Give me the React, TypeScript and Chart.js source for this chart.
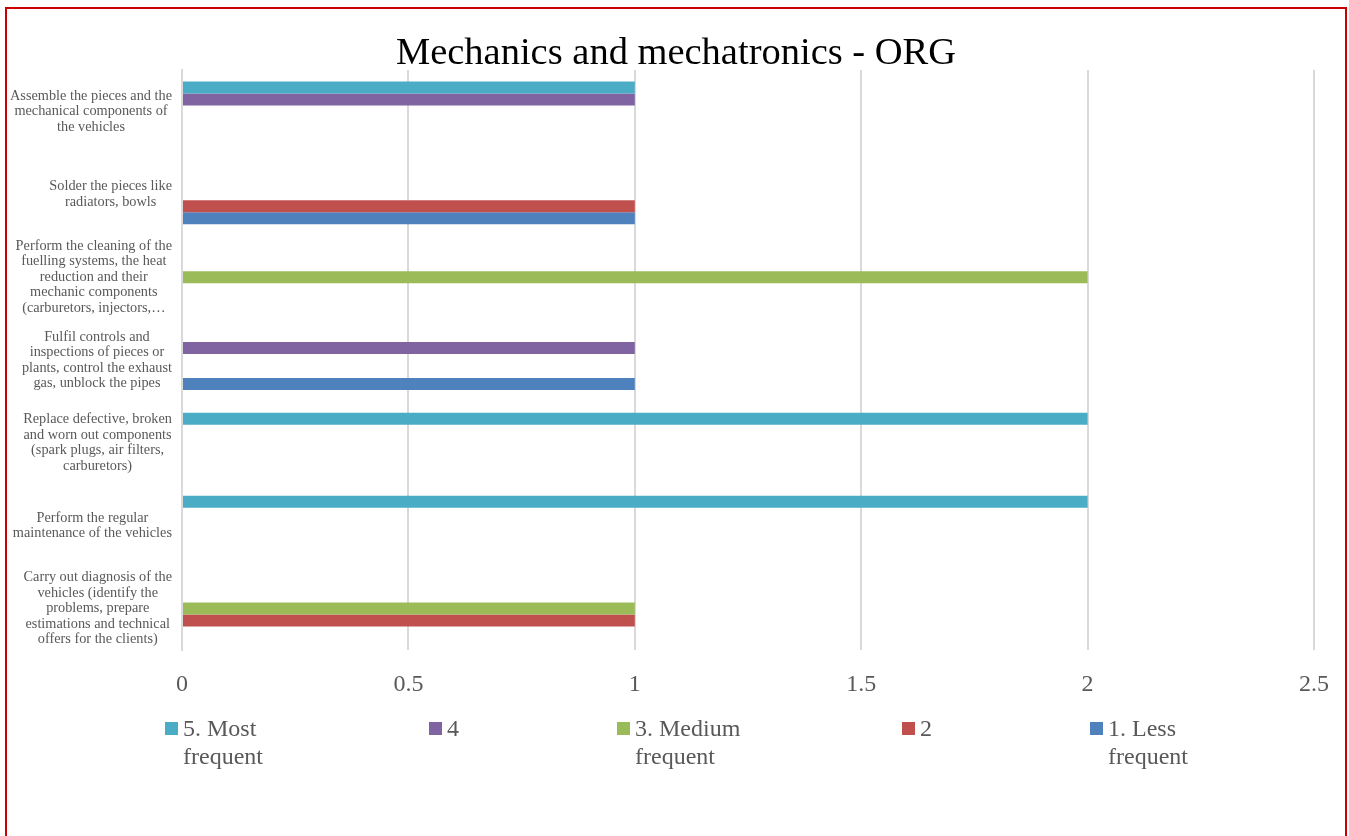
import React, { useEffect, useRef } from "react";
import { Chart, registerables } from "chart.js";

Chart.register(...registerables);

const FONT = "'Liberation Serif', serif";

const categories: string[][] = [
  ["Assemble the pieces and the", "mechanical components of", "the vehicles"],
  ["Solder the pieces like", "radiators, bowls"],
  ["Perform the cleaning of the", "fuelling systems, the heat", "reduction and their", "mechanic components", "(carburetors, injectors,…"],
  ["Fulfil controls and", "inspections of pieces or", "plants, control the exhaust", "gas, unblock the pipes"],
  ["Replace defective, broken", "and worn out components", "(spark plugs, air filters,", "carburetors)"],
  ["Perform the regular", "maintenance of the vehicles"],
  ["Carry out diagnosis of the", "vehicles (identify the", "problems, prepare", "estimations and technical", "offers for the clients)"],
];

const seriesLabels: string[][] = [
  ["5. Most", "frequent"],
  ["4"],
  ["3. Medium", "frequent"],
  ["2"],
  ["1. Less", "frequent"],
];

const mostFrequent = [1, 0, 0, 0, 2, 2, 0];
const four = [1, 0, 0, 1, 0, 0, 0];
const mediumFrequent = [0, 0, 2, 0, 0, 0, 1];
const two = [0, 1, 0, 0, 0, 0, 1];
const lessFrequent = [0, 1, 0, 1, 0, 0, 0];

const seriesValues = [mostFrequent, four, mediumFrequent, two, lessFrequent];
const seriesColors = ["#4BACC6", "#8064A2", "#9BBB59", "#C0504D", "#4F81BD"];

const xTicks = { min: 0, max: 2.5, step: 0.5 };
const title = "Mechanics and mechatronics - ORG";

const legendX = [165, 429, 617, 902, 1090];

const categoryLabelPlugin = {
  id: "categoryLabels",
  afterDraw(chart: any) {
    const { ctx } = chart;
    const yScale = chart.scales.y;
    ctx.save();
    ctx.font = `14.3px ${FONT}`;
    ctx.fillStyle = "#595959";
    ctx.textAlign = "center";
    ctx.textBaseline = "middle";
    const right = 172;
    const lh = 15.5;
    categories.forEach((lines, i) => {
      const cy = yScale.getPixelForValue(i);
      const maxW = Math.max(...lines.map((l) => ctx.measureText(l).width));
      const cx = right - maxW / 2;
      const y0 = cy - ((lines.length - 1) * lh) / 2;
      lines.forEach((l, j) => ctx.fillText(l, cx, y0 + j * lh));
    });
    ctx.restore();
  },
};

const legendPlugin = {
  id: "wrappedLegend",
  afterDraw(chart: any) {
    const { ctx } = chart;
    ctx.save();
    ctx.font = `24px ${FONT}`;
    ctx.textAlign = "left";
    ctx.textBaseline = "alphabetic";
    chart.data.datasets.forEach((ds: any, i: number) => {
      const x = legendX[i];
      ctx.fillStyle = ds.backgroundColor;
      ctx.fillRect(x, 722, 13, 13);
      ctx.fillStyle = "#595959";
      seriesLabels[i].forEach((line, j) => ctx.fillText(line, x + 18, 736 + j * 28));
    });
    ctx.restore();
  },
};

export default function App() {
  const ref = useRef<HTMLCanvasElement>(null);
  useEffect(() => {
    const chart = new Chart(ref.current!, {
      type: "bar",
      data: {
        labels: categories.map((c) => c.join(" ")),
        datasets: seriesValues.map((vals, i) => ({
          label: seriesLabels[i].join(" "),
          data: vals,
          backgroundColor: seriesColors[i],
          borderWidth: 0,
          categoryPercentage: 0.724,
          barPercentage: 1,
        })),
      },
      options: {
        indexAxis: "y",
        responsive: false,
        animation: false,
        layout: { padding: { left: 38, right: 35, top: 0, bottom: 0 } },
        scales: {
          x: {
            min: xTicks.min,
            max: xTicks.max,
            ticks: {
              stepSize: xTicks.step,
              color: "#595959",
              font: { family: FONT, size: 24 },
              padding: 20,
              callback: (v: any) => String(Number(v)),
            },
            grid: { color: "#D9D9D9", lineWidth: 2, drawTicks: false },
            border: { display: false },
            afterFit: (s: any) => {
              s.height = 186;
            },
          },
          y: {
            ticks: { display: false },
            grid: { display: false },
            border: { display: true, color: "#D9D9D9", width: 2 },
            afterFit: (s: any) => {
              s.width = 144;
            },
          },
        },
        plugins: {
          legend: { display: false },
          tooltip: { enabled: false },
          title: {
            display: true,
            text: title,
            color: "#000000",
            font: { family: FONT, size: 38.5, weight: "normal", lineHeight: 32 / 38.5 },
            padding: { top: 38, bottom: 0 },
          },
        },
      },
      plugins: [categoryLabelPlugin, legendPlugin],
    });
    return () => chart.destroy();
  }, []);

  return (
    <>
      <canvas
        ref={ref}
        width={1349}
        height={836}
        style={{ position: "fixed", left: 0, top: 0, width: 1349, height: 836 }}
      />
      <div
        style={{
          position: "fixed",
          left: 5,
          top: 7,
          width: 1342,
          height: 900,
          border: "2px solid #CC0000",
          boxSizing: "border-box",
          pointerEvents: "none",
        }}
      />
    </>
  );
}
